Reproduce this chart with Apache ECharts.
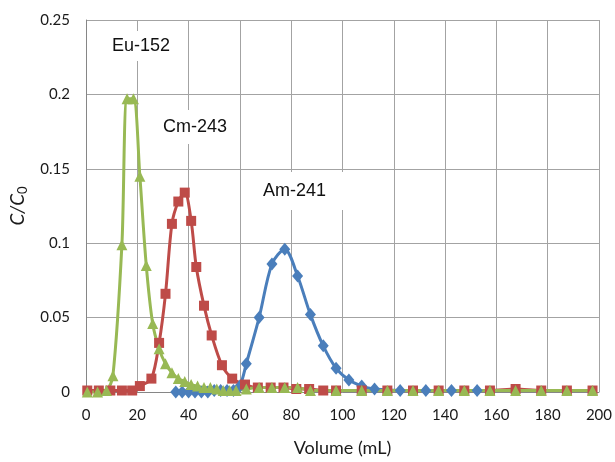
<!DOCTYPE html>
<html><head><meta charset="utf-8">
<script src="https://cdn.jsdelivr.net/npm/echarts@6/dist/echarts.min.js"></script>
<style>html,body{margin:0;padding:0;background:#fff}#c{width:615px;height:462px}</style>
</head><body><div id="c"></div>
<script>
// Am-241 (blue diamonds)
var amVolume = [35,37.5,40,42.5,45,47.5,50,52.5,55,57.5,60,62.5,67.5,72.5,77.5,82.5,87.5,92.5,97.5,102.5,107.5,112.5,122.5,132.5,142.5,152.5];
var amValue  = [0,0,0,0,0,0,0.001,0.001,0.001,0.001,0.004,0.019,0.050,0.086,0.096,0.078,0.052,0.031,0.016,0.008,0.004,0.002,0.001,0.001,0.001,0.001];
// Cm-243 (red squares)
var cmVolume = [0.5,5,9.5,14,18,21,25.5,28.5,31,33.5,36,38.5,41,43,46,49,53,57,62,67,72,77,82,87,92.5,97.5,107.5,117.5,127.5,137.5,147.5,157.5,167.5,177.5,187.5,197.5];
var cmValue  = [0.001,0.001,0.001,0.001,0.001,0.004,0.009,0.033,0.066,0.113,0.128,0.134,0.115,0.084,0.058,0.038,0.018,0.009,0.005,0.003,0.003,0.003,0.002,0.002,0.001,0.001,0.001,0.001,0.001,0.001,0.001,0.001,0.002,0.001,0.001,0.001];
// Eu-152 (green triangles)
var euVolume = [0.5,4.5,8,10.5,14,16,18.5,21,23.5,26,28.5,31,33.5,36,38.5,41,43.5,46,48.5,51,53.5,56,58.5,62.5,67.5,72.5,77.5,82.5,87.5,97.5,107.5,117.5,127.5,137.5,147.5,157.5,167.5,177.5,187.5,197.5];
var euValue  = [0,0,0.001,0.011,0.099,0.197,0.197,0.145,0.085,0.046,0.029,0.019,0.013,0.009,0.007,0.005,0.004,0.003,0.003,0.002,0.001,0.001,0.001,0.002,0.003,0.003,0.003,0.003,0.001,0.001,0.001,0.001,0.001,0.001,0.001,0.001,0.001,0.001,0.001,0.001];
var seriesNames = ['Am-241','Cm-243','Eu-152'];
var xTicks = [0,200,20];
var yTicks = [0,0.25,0.05];

function zip(a,b){return a.map(function(v,i){return [v,b[i]];});}
var chart = echarts.init(document.getElementById('c'));
var tickFont = {fontFamily:'Lato', fontSize:15, color:'#1a1a1a'};
function mkSeries(name, vol, val, color, symbol, size){
  return {name:name, type:'line', data:zip(vol,val), smooth:0.3, clip:false,
    symbol:symbol, symbolSize:size, showAllSymbol:true,
    lineStyle:{color:color, width:3}, itemStyle:{color:color}, emphasis:{disabled:true}};
}
function label(text, x, y, pad){
  return {type:'text', x:x, y:y, z:10, style:{text:text, font:'18px "Liberation Sans"', fill:'#111',
    textVerticalAlign:'middle', backgroundColor:'#fff', padding:pad}};
}
chart.setOption({
  animation:false,
  grid:{left:86, right:15, top:20, bottom:64},
  xAxis:{type:'value', min:xTicks[0], max:xTicks[1], interval:xTicks[2],
    name:'Volume (mL)', nameLocation:'middle', nameGap:47,
    nameTextStyle:{fontFamily:'Lato', fontSize:18, color:'#1a1a1a'},
    axisLine:{show:true, lineStyle:{color:'#868686', width:1}},
    axisTick:{show:false},
    axisLabel:Object.assign({margin:16}, tickFont),
    splitLine:{show:true, lineStyle:{color:'#a3a3a3', width:1}}},
  yAxis:{type:'value', min:yTicks[0], max:yTicks[1], interval:yTicks[2],
    name:'{i|C/C}{s|0}', nameLocation:'middle', nameGap:55,
    nameTextStyle:{rich:{i:{fontFamily:'Lato', fontStyle:'italic', fontSize:19, color:'#1a1a1a'},
                         s:{fontFamily:'Lato', fontSize:13, color:'#1a1a1a', padding:[10,0,0,0]}}},
    axisLine:{show:true, lineStyle:{color:'#868686', width:1}},
    axisTick:{show:false},
    axisLabel:Object.assign({margin:16}, tickFont),
    splitLine:{show:true, lineStyle:{color:'#a3a3a3', width:1}}},
  series:[
    mkSeries(seriesNames[0], amVolume, amValue, '#4a7ebb', 'diamond', [11,13]),
    mkSeries(seriesNames[1], cmVolume, cmValue, '#be4b48', 'rect', 10),
    mkSeries(seriesNames[2], euVolume, euValue, '#98b954', 'triangle', 11)
  ],
  graphic:[
    label('Eu-152', 108, 46, [6,4,6,4]),
    label('Cm-243', 159, 127, [8,10,8,4]),
    label('Am-241', 259, 191, [10,18,10,4])
  ]
});
</script></body></html>
